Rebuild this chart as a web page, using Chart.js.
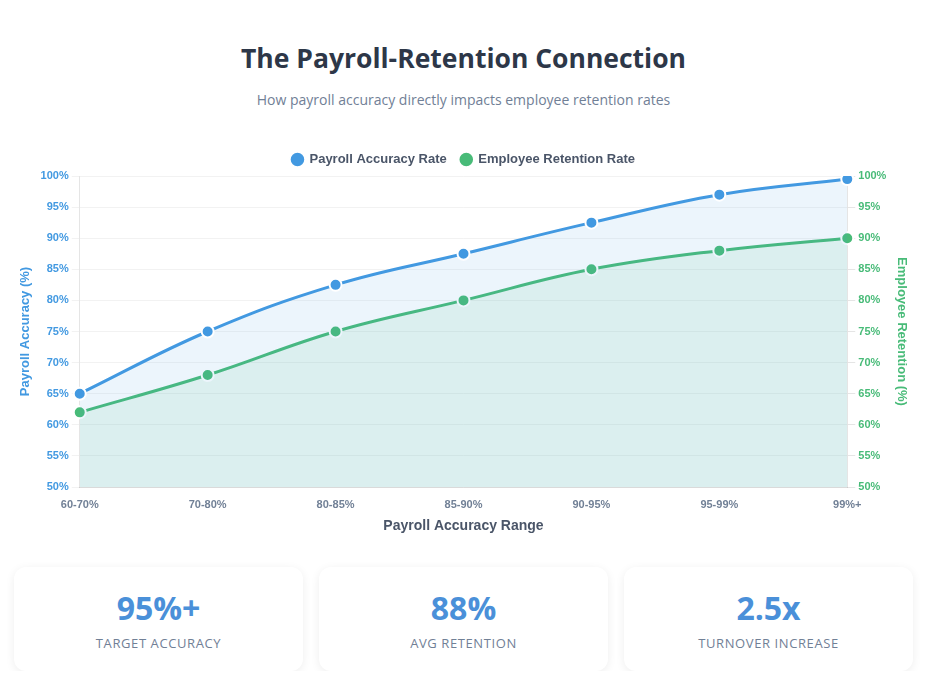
<!DOCTYPE html>
<html>
<head>
<meta charset="utf-8">
<script src="https://cdn.jsdelivr.net/npm/chart.js@4"></script>
<style>
    body {
        margin: 0;
        background: #ffffff;
        font-family: "Open Sans", sans-serif;
    }
    .container {
        width: 899px;
        margin: 0 14px;
    }
    h1 {
        margin: 42px 0 0 0;
        text-align: center;
        font-size: 26.5px;
        line-height: 32px;
        color: #2d3748;
        font-weight: 700;
    }
    .subtitle {
        margin: 16px 0 0 0;
        text-align: center;
        font-size: 14px;
        color: #718096;
    }
    .chart-box {
        position: relative;
        height: 400px;
        margin-top: 30px;
    }
    .cards {
        display: flex;
        gap: 16px;
        margin-top: 28px;
    }
    .card {
        flex: 1;
        height: 104px;
        background: #fff;
        border-radius: 12px;
        box-shadow: 0 2px 10px rgba(0, 0, 0, 0.07);
        text-align: center;
    }
    .card .num {
        font-size: 32px;
        font-weight: 700;
        color: #4a90d9;
        margin-top: 21px;
        line-height: 40px;
    }
    .card .lbl {
        font-size: 13px;
        color: #718096;
        letter-spacing: 0.6px;
        margin-top: 6px;
        text-transform: uppercase;
    }
</style>
</head>
<body>
<div class="container">
    <h1>The Payroll-Retention Connection</h1>
    <p class="subtitle">How payroll accuracy directly impacts employee retention rates</p>
    <div class="chart-box">
        <canvas id="graphiqueRetention"></canvas>
    </div>
    <div class="cards">
        <div class="card"><div class="num">95%+</div><div class="lbl">Target Accuracy</div></div>
        <div class="card"><div class="num">88%</div><div class="lbl">Avg Retention</div></div>
        <div class="card"><div class="num">2.5x</div><div class="lbl">Turnover Increase</div></div>
    </div>
</div>
<script>
const categories = ["60-70%", "70-80%", "80-85%", "85-90%", "90-95%", "95-99%", "99%+"];
const accuracyValues = [65, 75, 82.5, 87.5, 92.5, 97, 99.5];
const retentionValues = [62, 68, 75, 80, 85, 88, 90];

const blue = "#4299e1";
const green = "#48bb78";

Chart.defaults.font.family = "'Liberation Sans', Arial, sans-serif";

const ctx = document.getElementById("graphiqueRetention");
new Chart(ctx, {
    type: "line",
    data: {
        labels: categories,
        datasets: [{
            label: "Payroll Accuracy Rate",
            data: accuracyValues,
            borderColor: blue,
            backgroundColor: "rgba(66, 153, 225, 0.1)",
            pointBackgroundColor: blue,
            pointBorderColor: "#fff",
            pointBorderWidth: 2,
            pointRadius: 6,
            borderWidth: 3,
            tension: 0.4,
            fill: "origin",
            yAxisID: "y"
        }, {
            label: "Employee Retention Rate",
            data: retentionValues,
            borderColor: green,
            backgroundColor: "rgba(72, 187, 120, 0.1)",
            pointBackgroundColor: green,
            pointBorderColor: "#fff",
            pointBorderWidth: 2,
            pointRadius: 6,
            borderWidth: 3,
            tension: 0.4,
            fill: "origin",
            yAxisID: "y1"
        }]
    },
    options: {
        responsive: true,
        maintainAspectRatio: false,
        animation: false,
        plugins: {
            legend: {
                position: "top",
                labels: {
                    usePointStyle: true,
                    pointStyle: "circle",
                    boxWidth: 11,
                    boxHeight: 11,
                    padding: 14,
                    color: "#4a5568",
                    font: { size: 13, weight: "bold" }
                }
            },
            tooltip: { enabled: false }
        },
        scales: {
            x: {
                grid: { display: false },
                ticks: { color: "#718096", font: { size: 11, weight: "bold" } },
                title: {
                    display: true,
                    text: "Payroll Accuracy Range",
                    color: "#4a5568",
                    font: { size: 14, weight: "bold" }
                }
            },
            y: {
                position: "left",
                min: 50,
                max: 100,
                grid: { color: "rgba(0, 0, 0, 0.05)" },
                ticks: {
                    stepSize: 5,
                    color: blue,
                    font: { size: 11, weight: "bold" },
                    callback: (v) => v + "%"
                },
                title: {
                    display: true,
                    text: "Payroll Accuracy (%)",
                    color: blue,
                    font: { size: 13, weight: "bold" }
                }
            },
            y1: {
                position: "right",
                min: 50,
                max: 100,
                grid: { drawOnChartArea: false },
                ticks: {
                    stepSize: 5,
                    color: green,
                    font: { size: 11, weight: "bold" },
                    callback: (v) => v + "%"
                },
                title: {
                    display: true,
                    text: "Employee Retention (%)",
                    color: green,
                    font: { size: 13, weight: "bold" }
                }
            }
        }
    }
});
</script>
</body>
</html>
